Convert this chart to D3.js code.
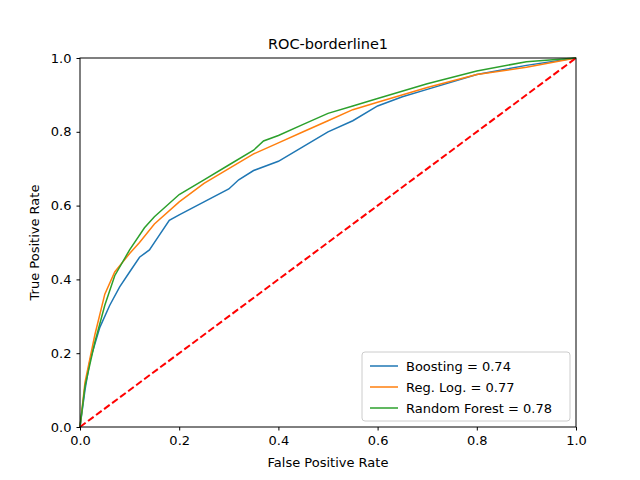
<!DOCTYPE html>
<html><head><meta charset="utf-8">
<script src="https://cdn.jsdelivr.net/npm/d3@7"></script>
<style>body{margin:0;background:#fff}text{font-family:"DejaVu Sans",sans-serif}</style>
</head><body>
<script>
var boostFpr = [0,0.01,0.02,0.04,0.06,0.08,0.1,0.12,0.14,0.16,0.18,0.2,0.25,0.3,0.32,0.35,0.4,0.45,0.5,0.55,0.6,0.65,0.7,0.8,0.9,1];
var boostTpr = [0,0.1,0.18,0.27,0.33,0.38,0.42,0.46,0.48,0.52,0.56,0.575,0.61,0.645,0.67,0.695,0.72,0.76,0.8,0.83,0.87,0.895,0.915,0.955,0.98,1];
var logFpr = [0,0.01,0.03,0.05,0.07,0.1,0.12,0.15,0.2,0.25,0.3,0.35,0.4,0.45,0.5,0.55,0.6,0.7,0.8,0.9,1];
var logTpr = [0,0.12,0.25,0.36,0.42,0.47,0.5,0.55,0.61,0.66,0.7,0.74,0.77,0.8,0.83,0.86,0.88,0.92,0.955,0.975,1];
var rfFpr = [0,0.01,0.03,0.05,0.07,0.1,0.13,0.15,0.2,0.25,0.3,0.35,0.37,0.4,0.45,0.5,0.55,0.6,0.7,0.8,0.9,1];
var rfTpr = [0,0.11,0.23,0.33,0.41,0.48,0.54,0.57,0.63,0.67,0.71,0.75,0.775,0.79,0.82,0.85,0.87,0.89,0.93,0.965,0.99,1];
var labels = ["Boosting = 0.74", "Reg. Log. = 0.77", "Random Forest = 0.78"];
var colors = ["#1f77b4", "#ff7f0e", "#2ca02c"];
var ticks = [0, 0.2, 0.4, 0.6, 0.8, 1.0];

var series = [[boostFpr, boostTpr], [logFpr, logTpr], [rfFpr, rfTpr]];
var L = 80, T = 58, W = 496, H = 369;

var svg = d3.select("body").append("svg").attr("width", 640).attr("height", 480);
var g = svg.append("g").attr("transform", "translate(" + L + "," + T + ")");
var x = d3.scaleLinear().domain([0, 1]).range([0, W]);
var y = d3.scaleLinear().domain([0, 1]).range([H, 0]);

var line = d3.line().x(function(d) { return x(d[0]); }).y(function(d) { return y(d[1]); });

series.forEach(function(s, i) {
  var pts = s[0].map(function(v, j) { return [v, s[1][j]]; });
  g.append("path").attr("d", line(pts)).attr("fill", "none")
    .attr("stroke", colors[i]).attr("stroke-width", 1.5);
});
g.append("path").attr("d", line([[0, 0], [1, 1]])).attr("fill", "none")
  .attr("stroke", "red").attr("stroke-width", 2).attr("stroke-dasharray", "7,3");

var fmt = d3.format(".1f");
var ax = g.append("g").attr("transform", "translate(0," + H + ")")
  .call(d3.axisBottom(x).tickValues(ticks).tickFormat(fmt).tickSize(3.5).tickPadding(5));
var ay = g.append("g").call(d3.axisLeft(y).tickValues(ticks).tickFormat(fmt).tickSize(3.5).tickPadding(5));
[ax, ay].forEach(function(a) { a.select(".domain").remove(); a.selectAll("text").attr("font-size", 13).attr("fill", "#000"); });

g.append("rect").attr("width", W).attr("height", H).attr("fill", "none").attr("stroke", "#000").attr("stroke-width", 1);

svg.append("text").attr("x", L + W / 2).attr("y", 49).attr("text-anchor", "middle").attr("font-size", 14.5).text("ROC-borderline1");
svg.append("text").attr("x", L + W / 2).attr("y", 467).attr("text-anchor", "middle").attr("font-size", 13).text("False Positive Rate");
svg.append("text").attr("transform", "translate(39," + (T + H / 2) + ") rotate(-90)").attr("text-anchor", "middle").attr("font-size", 13).text("True Positive Rate");

var lg = g.append("g").attr("transform", "translate(" + (W - 214) + "," + (H - 75) + ")");
lg.append("rect").attr("width", 208).attr("height", 69).attr("rx", 3).attr("fill", "#fff")
  .attr("fill-opacity", 0.8).attr("stroke", "#ccc");
labels.forEach(function(t, i) {
  var yy = 14 + i * 21;
  lg.append("line").attr("x1", 8).attr("x2", 36).attr("y1", yy).attr("y2", yy).attr("stroke", colors[i]).attr("stroke-width", 1.5);
  lg.append("text").attr("x", 44).attr("y", yy + 4.5).attr("font-size", 13).text(t);
});
</script>
</body></html>
